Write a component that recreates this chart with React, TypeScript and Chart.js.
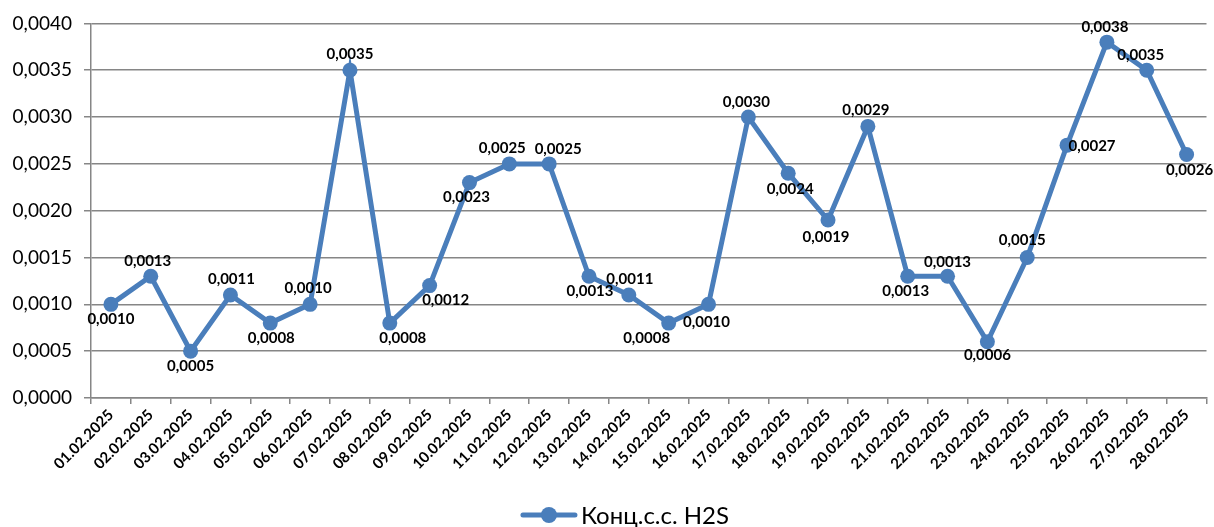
import React, { useEffect, useRef } from "react";
import { Chart, registerables } from "chart.js";

Chart.register(...registerables);

const categories = [
  "01.02.2025", "02.02.2025", "03.02.2025", "04.02.2025", "05.02.2025", "06.02.2025", "07.02.2025",
  "08.02.2025", "09.02.2025", "10.02.2025", "11.02.2025", "12.02.2025", "13.02.2025", "14.02.2025",
  "15.02.2025", "16.02.2025", "17.02.2025", "18.02.2025", "19.02.2025", "20.02.2025", "21.02.2025",
  "22.02.2025", "23.02.2025", "24.02.2025", "25.02.2025", "26.02.2025", "27.02.2025", "28.02.2025",
];

const h2sValues = [
  0.0010, 0.0013, 0.0005, 0.0011, 0.0008, 0.0010, 0.0035,
  0.0008, 0.0012, 0.0023, 0.0025, 0.0025, 0.0013, 0.0011,
  0.0008, 0.0010, 0.0030, 0.0024, 0.0019, 0.0029, 0.0013,
  0.0013, 0.0006, 0.0015, 0.0027, 0.0038, 0.0035, 0.0026,
];

const seriesName = "Конц.с.с. H2S";

const yTicks = [0, 0.0005, 0.001, 0.0015, 0.002, 0.0025, 0.003, 0.0035, 0.004];

// label placement offsets (dx, dy) relative to the point, in px (style only)
const labelOffsets: [number, number][] = [
  [0, 15], [-3, -15], [0, 15], [1, -16], [1, 15], [-2, -16], [0, -16],
  [13, 15], [16, 15], [-3, 15], [-7, -16], [9, -15], [1, 15], [1, -16],
  [-22, 15], [-2, 18], [-2, -15], [2, 16], [-2, 17], [-2, -16], [-2, 15],
  [0, -14], [0, 13], [-5, -17], [25, 1], [-2, -15], [-6, -15], [3, 16],
];

const LINE_COLOR = "#4A7EBB";
const GRID_COLOR = "#868686";
const FONT = "Lato, 'Open Sans', sans-serif";

const fmt = (v: number) => v.toFixed(4).replace(".", ",");

const dataLabelPlugin = {
  id: "dataLabels",
  afterDatasetsDraw(chart: any) {
    const ctx = chart.ctx;
    const meta = chart.getDatasetMeta(0);
    ctx.save();
    ctx.font = `bold 15px ${FONT}`;
    ctx.fillStyle = "#000";
    ctx.textAlign = "center";
    ctx.textBaseline = "middle";
    meta.data.forEach((pt: any, i: number) => {
      const [dx, dy] = labelOffsets[i] || [0, -15];
      ctx.fillText(fmt(h2sValues[i]), pt.x + dx, pt.y + dy);
    });
    ctx.restore();
  },
};

// bottom legend: line + marker symbol followed by the series name
const legendPlugin = {
  id: "bottomLegend",
  afterDraw(chart: any) {
    const ctx = chart.ctx;
    const ds = chart.data.datasets[0];
    ctx.save();
    ctx.font = `24px ${FONT}`;
    const textW = ctx.measureText(ds.label).width;
    const symW = 56;
    const gap = 4;
    const total = symW + gap + textW;
    const x0 = chart.width / 2 - total / 2 + 18;
    const y = chart.height - 12;
    ctx.strokeStyle = ds.borderColor;
    ctx.lineWidth = 5;
    ctx.lineCap = "round";
    ctx.beginPath();
    ctx.moveTo(x0 + 2, y);
    ctx.lineTo(x0 + symW - 2, y);
    ctx.stroke();
    ctx.fillStyle = ds.borderColor;
    ctx.beginPath();
    ctx.arc(x0 + symW / 2, y, 8, 0, Math.PI * 2);
    ctx.fill();
    ctx.fillStyle = "#000";
    ctx.textAlign = "left";
    ctx.textBaseline = "middle";
    ctx.fillText(ds.label, x0 + symW + gap, y + 1);
    ctx.restore();
  },
};

export default function App() {
  const ref = useRef<HTMLCanvasElement | null>(null);

  useEffect(() => {
    document.body.style.margin = "0";
    const chart = new Chart(ref.current!, {
      type: "line",
      data: {
        labels: categories,
        datasets: [
          {
            label: seriesName,
            data: h2sValues,
            borderColor: LINE_COLOR,
            backgroundColor: LINE_COLOR,
            borderWidth: 5,
            pointRadius: 7.5,
            pointHoverRadius: 7.5,
            pointBackgroundColor: LINE_COLOR,
            pointBorderWidth: 0,
            tension: 0,
          },
        ],
      },
      options: {
        animation: false,
        responsive: false,
        maintainAspectRatio: false,
        layout: { padding: { top: 22, right: 1, left: 0, bottom: 30 } },
        plugins: {
          tooltip: { enabled: false },
          legend: { display: false },
        },
        scales: {
          x: {
            type: "category",
            offset: true,
            grid: {
              offset: true,
              drawOnChartArea: false,
              drawTicks: true,
              tickLength: 6,
              color: GRID_COLOR,
              lineWidth: 1.5,
            },
            border: { color: GRID_COLOR, width: 1.5 },
            ticks: {
              autoSkip: false,
              minRotation: 45,
              maxRotation: 45,
              padding: 2,
              color: "#000",
              font: { family: FONT, size: 15, weight: "bold" },
            },
            afterFit: (scale: any) => {
              scale.height = 99;
            },
          },
          y: {
            min: 0,
            max: 0.004,
            afterBuildTicks: (scale: any) => {
              scale.ticks = yTicks.map((v) => ({ value: v }));
            },
            grid: {
              color: GRID_COLOR,
              lineWidth: 1.5,
              tickLength: 7,
              drawTicks: true,
            },
            border: { color: GRID_COLOR, width: 1.5 },
            ticks: {
              color: "#000",
              padding: 12,
              font: { family: FONT, size: 19 },
              callback: (v: any) => fmt(Number(v)),
            },
            afterFit: (scale: any) => {
              scale.width = 91;
            },
          },
        },
      },
      plugins: [dataLabelPlugin, legendPlugin],
    });
    return () => chart.destroy();
  }, []);

  return (
    <div style={{ position: "absolute", left: 0, top: 0, width: 1214, height: 527 }}>
      <canvas ref={ref} width={1214} height={527} style={{ width: 1214, height: 527 }} />
    </div>
  );
}
